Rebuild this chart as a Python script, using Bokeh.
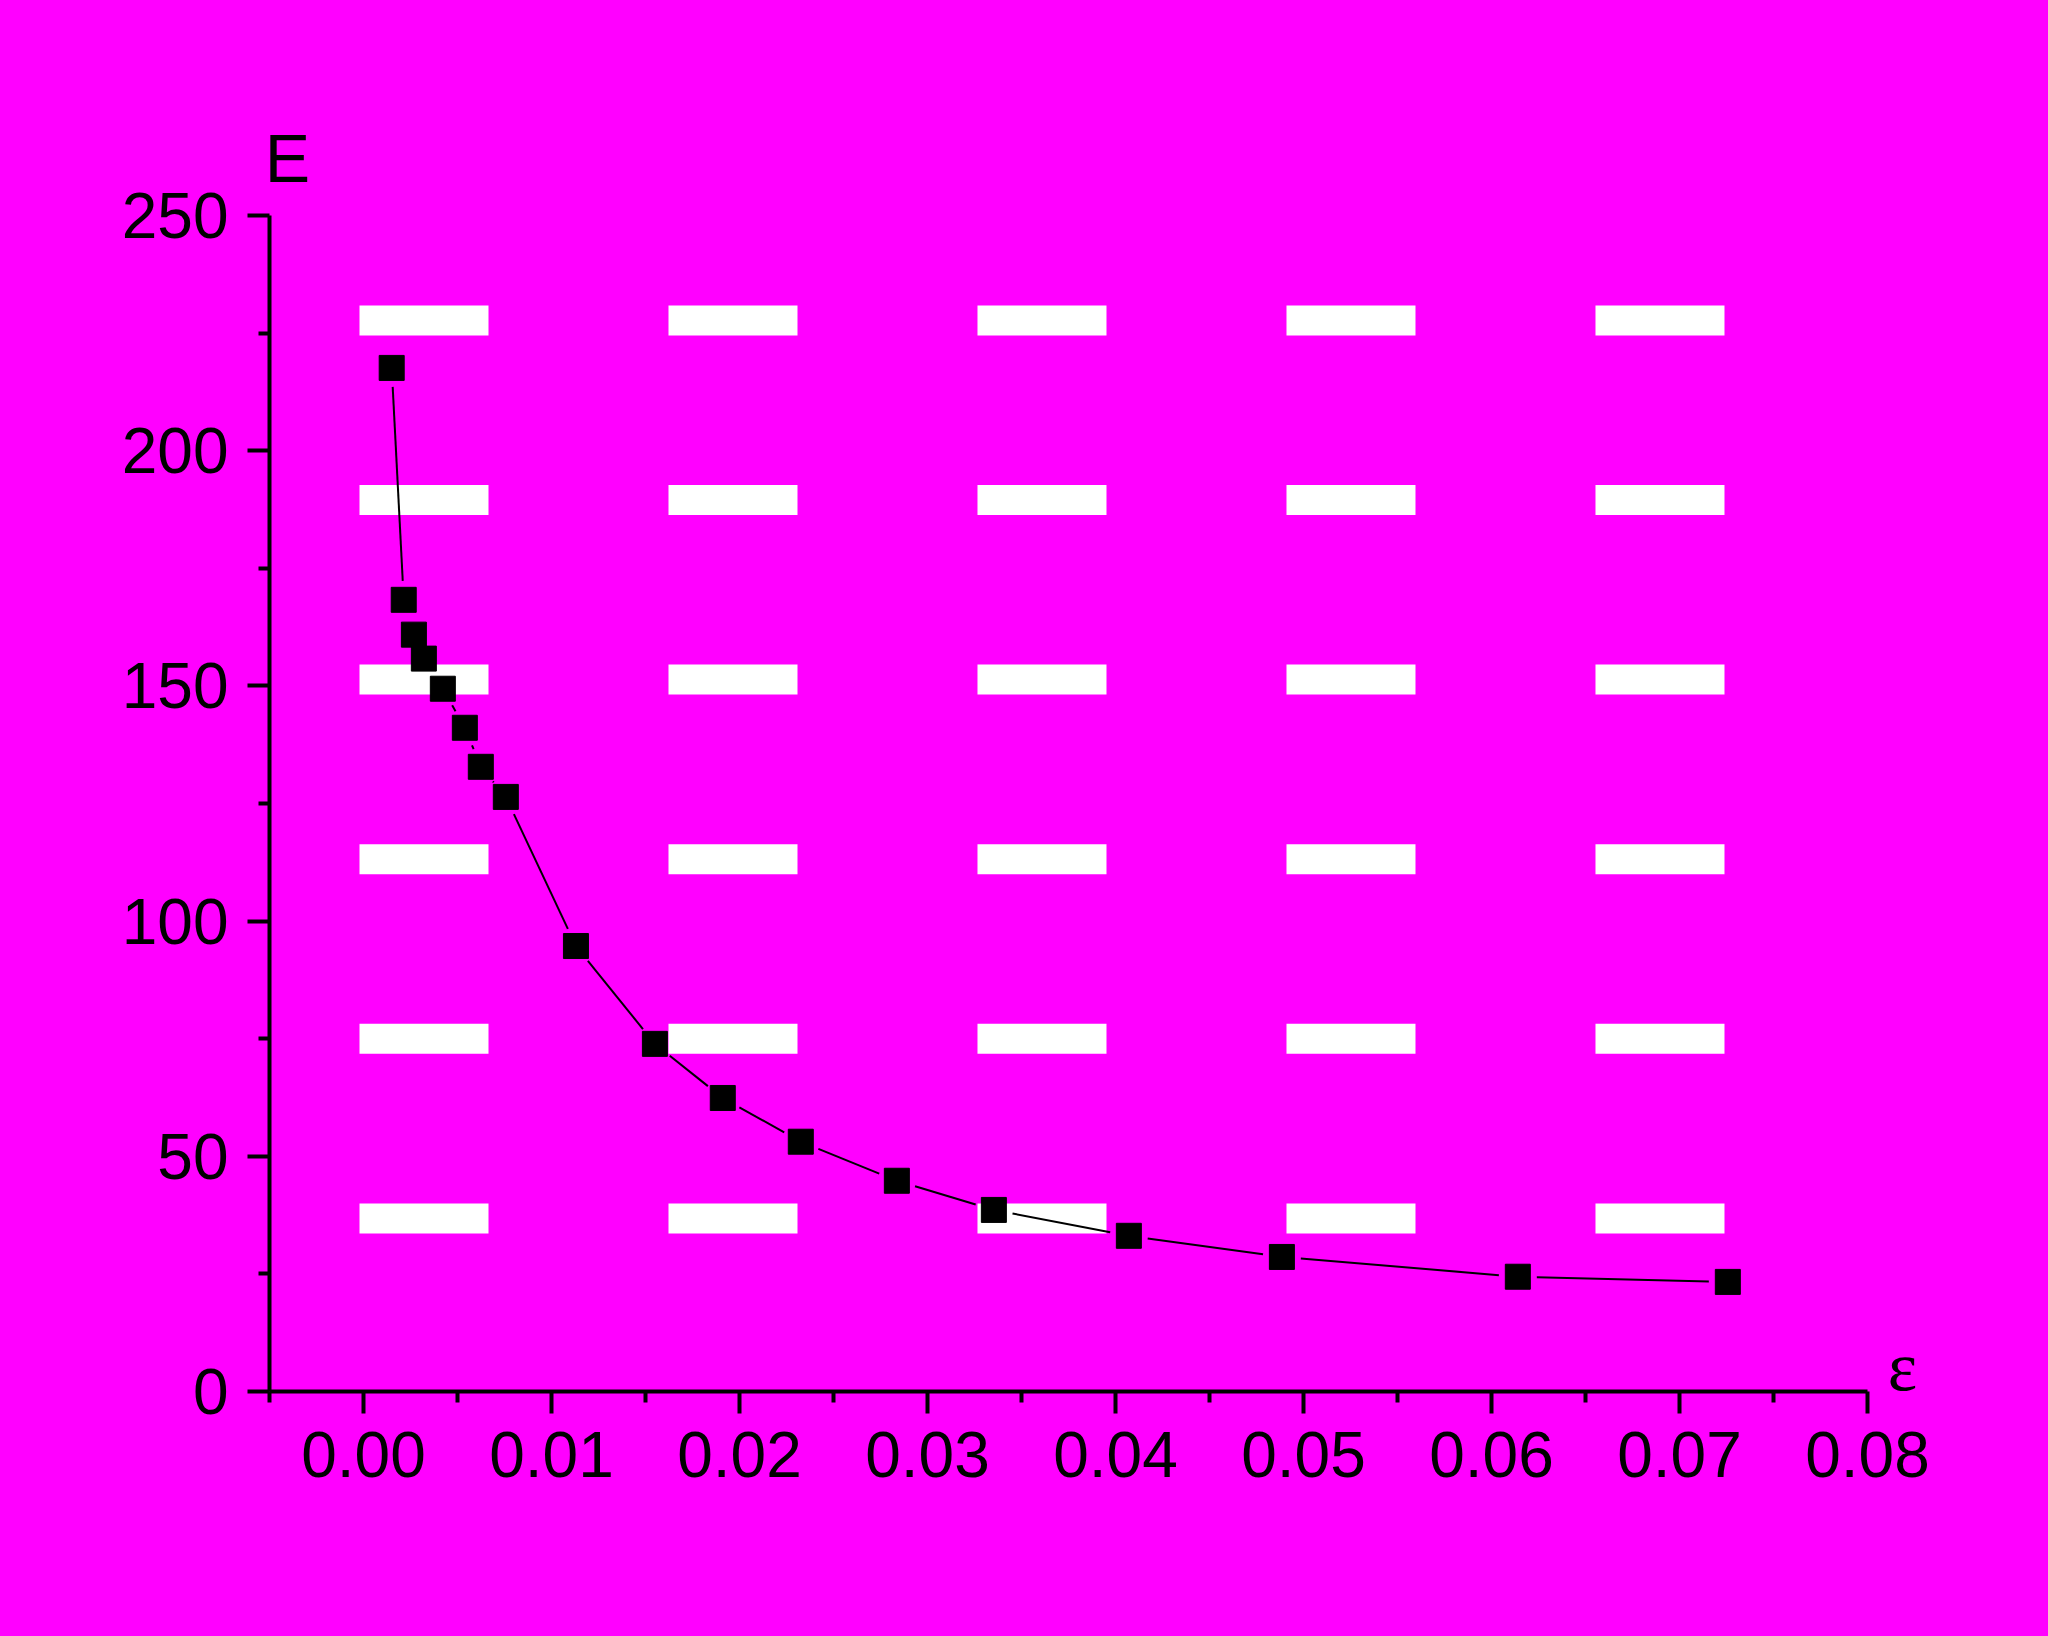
from bokeh.plotting import figure
from bokeh.models import Range1d, FixedTicker, Label, ColumnDataSource
from bokeh.embed import file_html
from bokeh.resources import INLINE
import numpy as np

# ---- data ----
strain = [0.00150, 0.00214, 0.00268, 0.00321, 0.00422, 0.00539, 0.00624, 0.00757,
          0.01130, 0.01550, 0.01911, 0.02326, 0.02837, 0.03353, 0.04071, 0.04885,
          0.06140, 0.07257]
modulus = [217.6, 168.3, 160.9, 155.8, 149.4, 141.1, 132.8, 126.4,
           94.7, 73.9, 62.4, 53.1, 44.8, 38.6, 33.1, 28.6,
           24.4, 23.3]

x_ticks = [0.00, 0.01, 0.02, 0.03, 0.04, 0.05, 0.06, 0.07, 0.08]
x_tick_labels = ["0.00", "0.01", "0.02", "0.03", "0.04", "0.05", "0.06", "0.07", "0.08"]
x_minor = [-0.005, 0.005, 0.015, 0.025, 0.035, 0.045, 0.055, 0.065, 0.075]
y_ticks = [0, 50, 100, 150, 200, 250]
y_tick_labels = ["0", "50", "100", "150", "200", "250"]
y_minor = [25, 75, 125, 175, 225]
x_axis_bounds = (-0.005, 0.08)
y_axis_bounds = (0, 250)

# background pattern of white dashes (decoration)
pat_x0, pat_dx, pat_nx = 0.003218, 0.016436, 5
pat_y0, pat_dy, pat_ny = 227.7, 38.18, 6

MAGENTA = "#FF00FF"
FONT = "Liberation Sans"

SX, SY = 18800.0, 4.704      # px per data unit on x and y
FW, FH = 1663, 1270          # plot frame (px)
p = figure(width=269 + FW + 100, height=121 + FH + 229,
           frame_width=FW, frame_height=FH,
           output_backend="svg", toolbar_location=None,
           x_range=Range1d(-0.005, -0.005 + FW / SX), y_range=Range1d(0, FH / SY),
           min_border_left=269, min_border_right=100,
           min_border_top=121, min_border_bottom=229)
p.background_fill_color = MAGENTA
p.border_fill_color = MAGENTA
p.outline_line_color = None
p.xgrid.visible = False
p.ygrid.visible = False

px, py = np.meshgrid([pat_x0 + i * pat_dx for i in range(pat_nx)],
                     [pat_y0 - j * pat_dy for j in range(pat_ny)])
p.rect(x=px.ravel(), y=py.ravel(), width=129, height=30,
       width_units="screen", height_units="screen",
       fill_color="white", line_color=None)

# connecting line, with a small gap around each symbol (as Origin draws it)
GAP = 19.0  # px from symbol centre
xs = np.array(strain) * SX
ys = np.array(modulus) * SY
x0s, y0s, x1s, y1s = [], [], [], []
for i in range(len(xs) - 1):
    dx, dy = xs[i + 1] - xs[i], ys[i + 1] - ys[i]
    d = np.hypot(dx, dy)
    if d <= 2 * GAP:
        continue
    ux, uy = dx / d, dy / d
    x0s.append((xs[i] + GAP * ux) / SX)
    y0s.append((ys[i] + GAP * uy) / SY)
    x1s.append((xs[i + 1] - GAP * ux) / SX)
    y1s.append((ys[i + 1] - GAP * uy) / SY)
p.segment(x0=x0s, y0=y0s, x1=x1s, y1=y1s, line_color="black", line_width=2)

src = ColumnDataSource(dict(x=strain, y=modulus))
p.scatter("x", "y", source=src, marker="square", size=25,
          fill_color="black", line_color="black")

for ax, ticks, labels, minor, bounds in (
        (p.xaxis[0], x_ticks, x_tick_labels, x_minor, x_axis_bounds),
        (p.yaxis[0], y_ticks, y_tick_labels, y_minor, y_axis_bounds)):
    ax.ticker = FixedTicker(ticks=ticks, minor_ticks=minor)
    ax.major_label_overrides = {t: l for t, l in zip(ticks, labels)}
    ax.bounds = bounds
    ax.axis_line_width = 4
    ax.axis_line_color = "black"
    ax.major_tick_line_width = 4
    ax.minor_tick_line_width = 4
    ax.major_tick_line_color = "black"
    ax.minor_tick_line_color = "black"
    ax.major_tick_in = 0
    ax.major_tick_out = 22
    ax.minor_tick_in = 0
    ax.minor_tick_out = 11
    ax.major_label_text_font = FONT
    ax.major_label_text_font_size = "64px"
    ax.major_label_text_color = "black"

p.xaxis[0].major_label_standoff = 18
p.yaxis[0].major_label_standoff = 19

p.add_layout(Label(x=-0.00404, y=262.3, text="E", text_align="center",
                   text_baseline="alphabetic", text_font=FONT,
                   text_font_size="68px", text_color="black"))
p.add_layout(Label(x=0.08186, y=5.4, text="ε", text_align="center",
                   text_baseline="alphabetic", text_font="Liberation Serif",
                   text_font_size="70px", text_color="black"))

html = file_html(p, INLINE)
html = html.replace("</head>", "<style>body{background:#FF00FF;}</style></head>", 1)
open("out.html", "w").write(html)
